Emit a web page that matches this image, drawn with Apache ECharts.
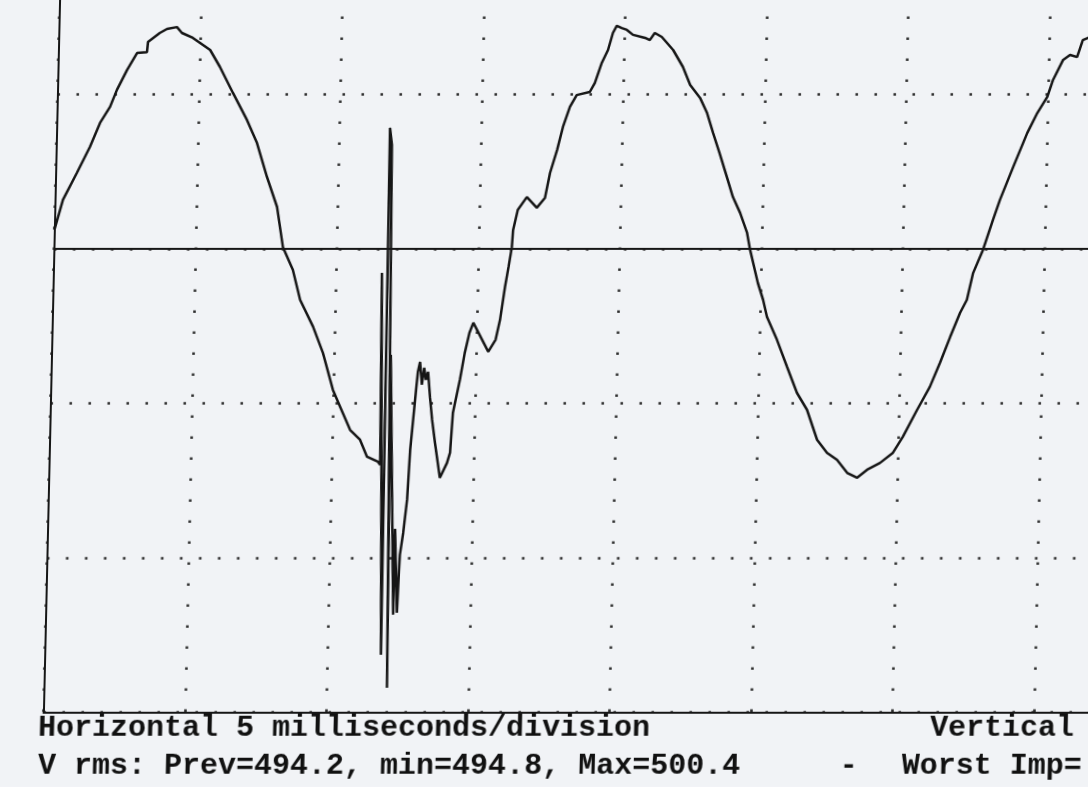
<!DOCTYPE html>
<html>
<head>
<meta charset="utf-8">
<title>Waveform</title>
<script src="https://cdn.jsdelivr.net/npm/echarts@6/dist/echarts.min.js"></script>
<style>
  html, body { margin: 0; padding: 0; background: #f1f3f6; overflow: hidden; }
  /* whole scope screen; the scan only shows part of it, and a bit crooked */
  #chart {
    position: absolute; left: -20px; top: -215px;
    width: 1500px; height: 1002px;
    transform: skewX(-1.3deg);
    transform-origin: 0 615px;
  }
</style>
</head>
<body>
<div id="chart"></div>
<script>
// scope scale
const MS_PER_DIV = 5;
const VOLTS_PER_DIV = 500;
const X_DIVS = 10;
const Y_DIVS_HALF = 3;

// trace (ms, volts)
const timeMs = [
  0, 0.28, 0.75, 1.19, 1.53, 1.87, 2.10, 2.44, 2.78, 3.13,
  3.16, 3.57, 3.82, 4.17, 4.35, 4.74, 5.36, 5.72, 6.20, 6.72,
  7.09, 7.47, 7.85, 8.09, 8.46, 8.74, 9.22, 9.59, 9.97, 10.24,
  10.61, 10.97, 11.23, 11.62, 11.70,
  // transient burst
  11.61, 11.88, 11.78, 11.86, 12.12, 11.99, 12.28, 12.28, 12.41, 12.45,
  12.47, 12.57, 12.68, 12.75, 12.83, 12.91, 12.96, 13.03, 13.11, 13.18,
  13.25, 13.32, 13.41, 13.50, 13.62, 13.82, 14.06, 14.16, 14.23, 14.45,
  14.60, 14.75, 14.88, 15.15, 15.43, 15.68, 15.82, 15.97, 16.08, 16.18,
  16.21, 16.36, 16.67, 17.03, 17.31, 17.47, 17.70, 17.89, 18.12, 18.35,
  18.81, 18.98, 19.21, 19.42, 19.58, 19.71, 19.89, 20.07, 20.29, 20.72,
  20.89, 21.06, 21.31, 21.72, 22.08, 22.35, 22.71, 22.97, 23.20, 23.44,
  23.72, 23.95, 24.22, 24.48, 24.60, 24.90, 25.10, 25.25, 25.62, 26.00,
  26.37, 26.74, 27.12, 27.48, 27.84, 28.21, 28.56, 28.91, 29.36, 29.81,
  30.15, 30.63, 31.06, 31.40, 31.74, 32.07, 32.30, 32.50, 32.83, 33.16,
  33.39, 33.83, 34.30, 34.64, 34.98, 35.17, 35.51, 35.75, 36.00, 36.19,
  36.38, 36.78
];
const volts = [
  61, 159, 246, 330, 408, 460, 515, 579, 634, 637,
  670, 699, 712, 718, 699, 683, 644, 589, 505, 417,
  343, 233, 136, 6, -68, -165, -252, -337, -456, -511,
  -586, -618, -673, -689, -699,
  -78, -1314, 392, 337, -1421, -343, -1184, -906, -1178, -1045,
  -990, -919, -812, -650, -553, -456, -398, -366, -440, -385,
  -424, -398, -482, -553, -628, -741, -693, -660, -531, -424,
  -337, -272, -239, -285, -333, -294, -230, -123, -58, 6,
  61, 126, 168, 133, 165, 246, 320, 395, 460, 498,
  508, 537, 602, 644, 699, 722, 715, 709, 693, 683,
  676, 699, 686, 644, 589, 531, 489, 440, 375, 311,
  233, 168, 116, 52, -3, -110, -165, -220, -294, -382,
  -466, -521, -618, -660, -683, -725, -741, -715, -693, -660,
  -608, -521, -447, -369, -285, -207, -165, -78, -3, 94,
  159, 265, 375, 440, 492, 547, 612, 628, 621, 676,
  683, 725
];

// footer lines of the printout
const footerLeft = [
  'Horizontal 5 milliseconds/division',
  'V rms: Prev=494.2, min=494.8, Max=500.4'
];
const footerRight = ['Vertical', 'Worst Imp='];
const footerDash = '-';

const trace = timeMs.map((t, i) => [t, volts[i]]);

const ink = '#161616';
const dotColor = '#2e2e2e';
const textColor = '#111111';
const font = 'bold 30px "Liberation Mono", "DejaVu Sans Mono", monospace';
const yOff = 215;  // chart div sits this far above the page

const chart = echarts.init(document.getElementById('chart'));
chart.setOption({
  backgroundColor: '#f1f3f6',
  animation: false,
  grid: {
    left: 70.5,
    top: 249 + yOff - Y_DIVS_HALF * 154.5,
    width: X_DIVS * 141.5,
    height: 2 * Y_DIVS_HALF * 154.5
  },
  xAxis: {
    type: 'value',
    min: 0,
    max: X_DIVS * MS_PER_DIV,
    interval: MS_PER_DIV,
    axisLine: { show: true, onZero: false, lineStyle: { color: ink, width: 2 } },
    axisTick: { show: false },
    axisLabel: { show: false },
    splitLine: { show: true, lineStyle: { color: dotColor, width: 2.6, type: [2.6, 18.4] } }
  },
  yAxis: {
    type: 'value',
    min: -Y_DIVS_HALF * VOLTS_PER_DIV,
    max: Y_DIVS_HALF * VOLTS_PER_DIV,
    interval: VOLTS_PER_DIV,
    axisLine: { show: true, onZero: false, lineStyle: { color: ink, width: 2 } },
    axisTick: { show: false },
    axisLabel: { show: false },
    splitLine: { show: true, lineStyle: { color: dotColor, width: 2.6, type: [2.6, 16.4] } }
  },
  series: [{
    type: 'line',
    data: trace,
    showSymbol: false,
    smooth: false,
    lineStyle: { color: ink, width: 2.5 },
    markLine: {
      silent: true,
      symbol: 'none',
      label: { show: false },
      lineStyle: { color: ink, type: 'solid', width: 2 },
      data: [{ yAxis: 0 }]
    }
  }],
  graphic: [
    { type: 'text', x: 65.5, y: 728 + yOff, style: { text: footerLeft[0], font: font, fill: textColor, textVerticalAlign: 'middle' } },
    { type: 'text', x: 957.5, y: 728 + yOff, style: { text: footerRight[0], font: font, fill: textColor, textVerticalAlign: 'middle' } },
    { type: 'text', x: 66.3, y: 766 + yOff, style: { text: footerLeft[1], font: font, fill: textColor, textVerticalAlign: 'middle' } },
    { type: 'text', x: 868, y: 766 + yOff, style: { text: footerDash, font: font, fill: textColor, textVerticalAlign: 'middle' } },
    { type: 'text', x: 930, y: 766 + yOff, style: { text: footerRight[1], font: font, fill: textColor, textVerticalAlign: 'middle' } }
  ]
});
</script>
</body>
</html>
